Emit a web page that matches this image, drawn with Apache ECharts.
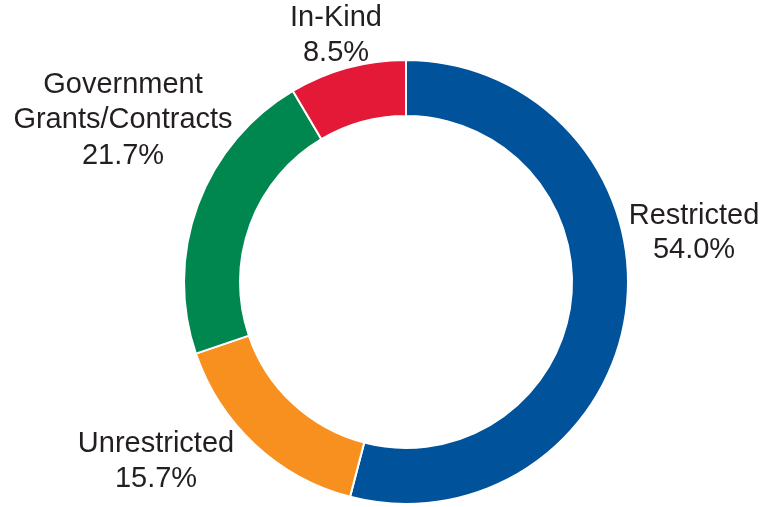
<!DOCTYPE html>
<html>
<head>
<meta charset="utf-8">
<script src="https://cdn.jsdelivr.net/npm/echarts@6/dist/echarts.min.js"></script>
<style>
html,body{margin:0;padding:0;background:#fff;}
#chart{width:778px;height:507px;}
</style>
</head>
<body>
<div id="chart"></div>
<script>
// Data
var categories = ['Restricted', 'Unrestricted', 'Government\nGrants/Contracts', 'In-Kind'];
var values = [54.0, 15.7, 21.7, 8.5];
var colors = ['#00539B', '#F7901E', '#00874F', '#E31937'];

// Label placement (text layout only)
var labelCenters = [[694, 233], [156, 461], [123, 120], [336, 35]];
var labelLineHeights = [34, 35, 35.5, 35];

var chart = echarts.init(document.getElementById('chart'), null, {renderer: 'canvas'});
var data = categories.map(function (c, i) {
  return {
    name: c,
    value: values[i],
    itemStyle: {color: colors[i]},
    label: {lineHeight: labelLineHeights[i]}
  };
});
chart.setOption({
  animation: false,
  backgroundColor: '#ffffff',
  series: [{
    type: 'pie',
    center: [406, 282],
    radius: [166, 222],
    startAngle: 90,
    clockwise: true,
    avoidLabelOverlap: false,
    itemStyle: {borderColor: '#ffffff', borderWidth: 2},
    label: {
      show: true,
      position: 'outside',
      formatter: function (p) { return p.name + '\n' + p.value.toFixed(1) + '%'; },
      fontFamily: 'Liberation Sans, Arial, sans-serif',
      fontSize: 29,
      color: '#231F20',
      align: 'center'
    },
    labelLine: {show: false},
    labelLayout: function (params) {
      var c = labelCenters[params.dataIndex];
      return {x: c[0], y: c[1], align: 'center', verticalAlign: 'middle'};
    },
    emphasis: {disabled: true},
    data: data
  }]
});
</script>
</body>
</html>
